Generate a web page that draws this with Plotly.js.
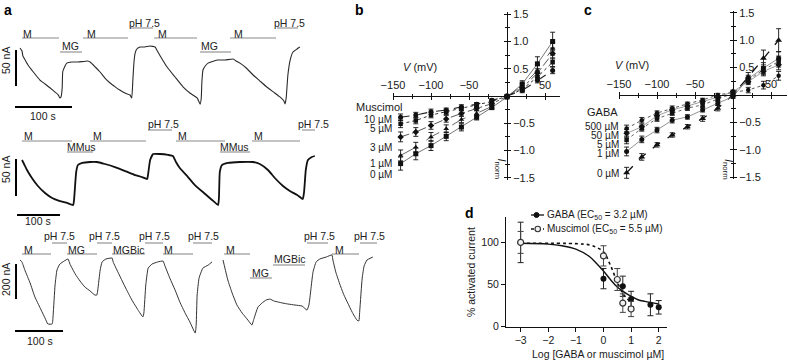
<!DOCTYPE html>
<html><head><meta charset="utf-8">
<script src="https://cdn.plot.ly/plotly-3.0.1.min.js"></script>
<style>html,body{margin:0;padding:0;background:#fff}#chart{width:788px;height:362px}</style>
</head><body><div id="chart"></div>
<script>
// ---------- Panel a: current traces (time in s, current in nA) ----------
const row1Time = [0,3.5,5,9,14,23,35,44,53,61,67,70,72,74,75,79,82,91,102,119,123,132,140,149,158,167,175,184,193,196,198,200,202,205,211,219,228,237,240,246,258,272,286,298,311,316,318,319,321,325,330,346,360,374,379,386,397,409,421,433,447,456,463,465,467,470,474,479,486,491];
const row1Current = [0,-4.2,-11,-16.7,-23.6,-33,-44.5,-50,-55.6,-61,-65,-69.5,-68,-55.6,-33,-25,-21,-19.5,-19.5,-18,-19.5,-26.4,-33,-41.7,-48.6,-54,-58.4,-62.5,-65.3,-69.5,-44.5,-19.5,-7,-1.4,1.4,1.4,2.8,1.4,-2.8,-11,-26.4,-40.3,-54,-62.5,-69.5,-78,-69.5,-48.6,-30.6,-25,-21,-16.7,-16.7,-15.3,-18,-21,-27.8,-37.5,-45.9,-54.2,-62.5,-68,-73.6,-77.8,-69.5,-37.5,-16.7,-5.6,-1.4,1.4];

const row2Time = [0,4.7,11.6,23,37,53.5,70,88,105,119,121,126,130,140,158,174,193,216,240,263,279,291,293,298,305,321,340,351,358,367,386,402,426,442,456,458,460,465,479,507,537,553,572,588,607,623,640,653,656,660,665,674,681];
const row2Current = [0,-5.4,-13.5,-24.3,-35.1,-44.6,-51.3,-55.4,-58,-60.8,-54,-16.2,-6.8,-4,-2.7,-2.7,-5.4,-9.5,-14.9,-20.3,-23,-25.7,-20.3,0,8.1,8.1,6.8,5.4,-2.7,-10.8,-23,-33.8,-45.9,-54,-60.8,-51.3,-16.2,-6.8,-4,-2.7,-2.7,-5.4,-13.5,-24.3,-35.1,-41.9,-47.3,-52.7,-43.2,-13.5,0,4.1,5.4];

const row3aTime = [0,4,10,21,31,42,52,58,67,69,73,77,83,92,100,104,115,125,135,146,156,160,162,167,171,179,192,194,204,219,233,246,256,258,262,267,275,287,298,302,312,323,333,344,354,365,367,369,373,381,392,400];
const row3aCurrent = [0,-11,-57,-131,-211,-274,-331,-365,-365,-314,-143,-57,-23,-6,6,-23,-80,-120,-154,-177,-200,-200,-171,-57,-11,6,11,-11,-69,-154,-228,-286,-325,-303,-143,-46,-23,-11,-6,-34,-103,-171,-240,-303,-354,-417,-371,-200,-103,-46,-29,-11];

const row3bTime = [0,4,10,19,29,40,52,60,65,69,73,81,90,98,106,115,125,135,150,165,175,179,183,187.5,194,202,215,227,229,235,244,252,260,269,279,283,285,290,294,300,312];
const row3bCurrent = [0,-46,-114,-188,-257,-303,-343,-371,-331,-297,-268,-246,-228,-223,-234,-240,-246,-251,-257,-263,-286,-257,-171,-69,-11,6,17,29,0,-69,-143,-200,-246,-297,-343,-348,-286,-103,-34,0,17];

// scale bars (nA, s)
const scaleCurrent = [50, 50, 200];
const scaleTime = [100, 100, 100];

// ---------- Panels b, c: I-V curves ----------
const voltages = [-140,-120,-100,-80,-60,-40,-20,0,20,40,60];
const ivTickVals = [-150,-100,-50,50];
const ivTickText = ['−150','−100','−50','50'];
const inormTickVals = [-1.5,-1,-0.5,0.5,1,1.5];
const inormTickText = ['−1.5','−1.0','−0.5','0.5','1.0','1.5'];
const mus0  = [-1.24,-1.06,-0.91,-0.74,-0.57,-0.39,-0.21,-0.02,0.22,0.59,1.00];
const mus1  = [-1.09,-0.94,-0.75,-0.60,-0.43,-0.32,-0.19,-0.01,0.18,0.47,0.87];
const mus3  = [-0.75,-0.66,-0.54,-0.42,-0.32,-0.23,-0.14,-0.01,0.15,0.42,0.78];
const mus5  = [-0.51,-0.45,-0.35,-0.29,-0.23,-0.17,-0.10,0.00,0.12,0.35,0.62];
const mus10 = [-0.39,-0.35,-0.29,-0.26,-0.20,-0.15,-0.08,0.00,0.10,0.29,0.47];
const mus0Err  = [0.12,0.11,0.09,0.08,0.07,0.05,0.04,0.02,0.06,0.13,0.17];
const mus1Err  = [0.10,0.09,0.08,0.07,0.06,0.05,0.04,0.02,0.05,0.10,0.12];
const mus3Err  = [0.09,0.08,0.07,0.06,0.05,0.04,0.03,0.02,0.05,0.08,0.10];
const mus5Err  = [0.07,0.06,0.05,0.05,0.04,0.04,0.03,0.02,0.04,0.07,0.08];
const mus10Err = [0.06,0.05,0.05,0.04,0.04,0.03,0.03,0.02,0.04,0.05,0.06];
const musLabels = ['10 µM','5 µM','3 µM','1 µM','0 µM'];

const gaba0   = [-1.42,-1.13,-0.91,-0.73,-0.58,-0.43,-0.24,0.00,0.33,0.67,1.00];
const gaba1   = [-1.03,-0.81,-0.64,-0.46,-0.40,-0.27,-0.15,-0.03,0.30,0.49,0.67];
const gaba5   = [-0.82,-0.61,-0.43,-0.33,-0.24,-0.18,-0.08,0.03,0.27,0.46,0.61];
const gaba50  = [-0.70,-0.58,-0.38,-0.27,-0.20,-0.12,-0.04,0.06,0.24,0.43,0.55];
const gaba500 = [-0.61,-0.46,-0.33,-0.24,-0.16,-0.09,0.00,0.05,0.09,0.18,0.35];
const gaba0Err   = [0.10,0.06,0.04,0.04,0.04,0.05,0.05,0.03,0.08,0.15,0.21];
const gaba1Err   = [0.08,0.06,0.05,0.05,0.04,0.04,0.04,0.03,0.06,0.10,0.12];
const gaba5Err   = [0.07,0.05,0.05,0.04,0.04,0.04,0.03,0.03,0.06,0.09,0.10];
const gaba50Err  = [0.07,0.05,0.04,0.04,0.04,0.03,0.03,0.03,0.05,0.08,0.09];
const gaba500Err = [0.06,0.05,0.04,0.04,0.03,0.03,0.03,0.03,0.05,0.07,0.08];
const gabaLabels = ['500 µM','50 µM','5 µM','1 µM','0 µM'];

// ---------- Panel d: dose response ----------
const gabaLogConc = [-3,0,0.7,1,1.7,2];
const gabaPct     = [100,57,48,33,26,23];
const gabaPctErr  = [24,12,12,9,13,8];
const musLogConc  = [-3,0,0.5,0.7,1];
const musPct      = [100,84,56,28,21];
const musPctErr   = [13,12,13,11,9];
const gabaFitX = [-3,-2,-1.5,-1,-0.5,-0.25,0,0.25,0.5,0.75,1,1.25,1.5,2];
const gabaFitY = [99,98,96,92,83,75,66,56,47,41,36,32,30,27];
const musFitX  = [-3,-1,-0.5,-0.25,0,0.25,0.5,0.75,1];
const musFitY  = [99,98.5,97,94,89,73,53,37,29];

// ---------- layout helpers ----------
const W = 788, H = 362;
const PX = v => v / W, PY = v => 1 - v / H;
const FONT = 'Liberation Sans, Arial, Helvetica, sans-serif';
const TXT = '#1a1a1a';

const traces = [];
const lineTrace = (x, y, xa, ya, color, width) => ({x, y, xaxis: xa, yaxis: ya, type: 'scatter', mode: 'lines',
  line: {color, width, shape: 'spline', smoothing: 0.4}, hoverinfo: 'skip', showlegend: false});
traces.push(lineTrace(row1Time, row1Current, 'x', 'y', '#2a2a2a', 1.1));
traces.push(lineTrace(row2Time, row2Current, 'x2', 'y2', '#111', 1.8));
traces.push(lineTrace(row3aTime, row3aCurrent, 'x3', 'y3', '#333', 1.0));
traces.push(lineTrace(row3bTime, row3bCurrent, 'x4', 'y4', '#333', 1.0));

function ivTrace(y, err, xa, ya, symbol, dash, color, width, msize) {
  return {x: voltages, y, xaxis: xa, yaxis: ya, type: 'scatter', mode: 'lines+markers',
    line: {color, width, dash}, marker: {symbol, size: msize, color: '#111'},
    error_y: {type: 'data', array: err, visible: true, color: '#111', thickness: 0.9, width: 2.5},
    cliponaxis: false, hoverinfo: 'skip', showlegend: false};
}
const bStyles = [
  [mus0, mus0Err, 'square', 'solid', '#666', 0.9, 5],
  [mus1, mus1Err, 'triangle-up', 'longdash', '#555', 0.9, 5],
  [mus3, mus3Err, 'diamond', 'dashdot', '#444', 0.9, 5],
  [mus5, mus5Err, 'square', 'dot', '#333', 1.0, 4.5],
  [mus10, mus10Err, 'circle', 'dash', '#222', 1.1, 5]
];
bStyles.forEach(s => traces.push(ivTrace(s[0], s[1], 'x5', 'y5', s[2], s[3], s[4], s[5], s[6])));
const cStyles = [
  [gaba0, gaba0Err, 'triangle-up', 'dash', '#111', 1.3, 6],
  [gaba1, gaba1Err, 'circle', 'solid', '#777', 0.8, 5],
  [gaba5, gaba5Err, 'square', 'dot', '#555', 0.9, 4.5],
  [gaba50, gaba50Err, 'diamond', 'solid', '#888', 0.8, 5],
  [gaba500, gaba500Err, 'circle', 'dot', '#444', 0.9, 4.5]
];
cStyles.forEach(s => traces.push(ivTrace(s[0], s[1], 'x7', 'y7', s[2], s[3], s[4], s[5], s[6])));
// invisible companions so the crossing tick overlays are drawn
traces.push({x: voltages, y: mus0, xaxis: 'x6', yaxis: 'y6', mode: 'lines', opacity: 0, hoverinfo: 'skip', showlegend: false});
traces.push({x: voltages, y: gaba0, xaxis: 'x8', yaxis: 'y8', mode: 'lines', opacity: 0, hoverinfo: 'skip', showlegend: false});

// panel d
traces.push({x: gabaFitX, y: gabaFitY, xaxis: 'x9', yaxis: 'y9', mode: 'lines', line: {color: '#111', width: 1.4, shape: 'spline'}, hoverinfo: 'skip', showlegend: false});
traces.push({x: musFitX, y: musFitY, xaxis: 'x9', yaxis: 'y9', mode: 'lines', line: {color: '#111', width: 1.6, dash: 'dot', shape: 'spline'}, hoverinfo: 'skip', showlegend: false});
traces.push({x: gabaLogConc, y: gabaPct, xaxis: 'x9', yaxis: 'y9', mode: 'markers', marker: {symbol: 'circle', size: 6, color: '#111'},
  error_y: {type: 'data', array: gabaPctErr, visible: true, color: '#222', thickness: 1, width: 3}, cliponaxis: false, hoverinfo: 'skip', showlegend: false});
traces.push({x: musLogConc, y: musPct, xaxis: 'x9', yaxis: 'y9', mode: 'markers', marker: {symbol: 'circle', size: 6, color: '#f2f2f2', line: {color: '#333', width: 1.2}},
  error_y: {type: 'data', array: musPctErr, visible: true, color: '#444', thickness: 1, width: 3}, cliponaxis: false, hoverinfo: 'skip', showlegend: false});

// ---------- axes ----------
const hidden = {visible: false, fixedrange: true};
const layout = {
  width: W, height: H, margin: {l: 0, r: 0, t: 0, b: 0},
  paper_bgcolor: '#fff', plot_bgcolor: 'rgba(0,0,0,0)', showlegend: false,
  font: {family: FONT, size: 10, color: TXT},
  xaxis:  Object.assign({domain: [0, PX(380)], range: [-35.1, 631.6], anchor: 'y'}, hidden),
  yaxis:  Object.assign({domain: [PY(112), PY(40)], range: [-88.9, 11.1], anchor: 'x'}, hidden),
  xaxis2: Object.assign({domain: [0, PX(380)], range: [-51.2, 832.6], anchor: 'y2'}, hidden),
  yaxis2: Object.assign({domain: [PY(218), PY(145)], range: [-78.3, 20.25], anchor: 'x2'}, hidden),
  xaxis3: Object.assign({domain: [0, PX(222)], range: [-41.7, 420.8], anchor: 'y3'}, hidden),
  yaxis3: Object.assign({domain: [PY(335), PY(250)], range: [-428, 57.1], anchor: 'x3'}, hidden),
  xaxis4: Object.assign({domain: [PX(222), PX(380)], range: [-2.08, 327.1], anchor: 'y4'}, hidden),
  yaxis4: Object.assign({domain: [PY(335), PY(250)], range: [-428, 57.1], anchor: 'x4'}, hidden),
};
function ivAxes(xn, yn, oxn, oyn, xdom, xrange, ydom, yrange, xpos, ypos) {
  const common = {showgrid: false, zeroline: false, fixedrange: true, tickcolor: '#111', tickwidth: 1, linecolor: '#111', linewidth: 1,
    tickfont: {family: FONT, size: 11, color: TXT}};
  layout['xaxis' + xn] = Object.assign({}, common, {domain: xdom, range: xrange, anchor: 'free', position: xpos, side: 'top',
    showline: true, ticks: 'outside', ticklen: 3, tickmode: 'array', tickvals: ivTickVals, ticktext: ivTickText,
    minor: {tickmode: 'linear', tick0: 0, dtick: 25, ticks: 'outside', ticklen: 2, tickcolor: '#111'}});
  layout['yaxis' + yn] = Object.assign({}, common, {domain: ydom, range: yrange, anchor: 'free', position: ypos, side: 'right',
    showline: true, ticks: 'outside', ticklen: 3, tickmode: 'array', tickvals: inormTickVals, ticktext: inormTickText,
    minor: {tickmode: 'linear', tick0: 0, dtick: 0.25, ticks: 'outside', ticklen: 2, tickcolor: '#111'}});
  layout['xaxis' + oxn] = Object.assign({}, common, {domain: xdom, range: xrange, anchor: 'free', position: xpos, side: 'bottom',
    overlaying: 'x' + xn, showline: false, showticklabels: false, ticks: 'outside', ticklen: 3, tickmode: 'linear', tick0: 0, dtick: 50,
    minor: {dtick: 25, ticks: 'outside', ticklen: 2, tickcolor: '#111'}});
  layout['yaxis' + oyn] = Object.assign({}, common, {domain: ydom, range: yrange, anchor: 'free', position: ypos, side: 'left',
    overlaying: 'y' + yn, showline: false, showticklabels: false, ticks: 'outside', ticklen: 3, tickmode: 'linear', tick0: 0, dtick: 0.5,
    minor: {dtick: 0.25, ticks: 'outside', ticklen: 2, tickcolor: '#111'}});
}
ivAxes(5, 5, 6, 6, [PX(393), PX(560)], [-150, 69.7], [PY(180), PY(12)], [-1.541, 1.541], PY(96), PX(507));
ivAxes(7, 7, 8, 8, [PX(619), PX(787)], [-150, 71], [PY(179), PY(11)], [-1.533, 1.533], PY(95), PX(733));
layout.xaxis9 = {domain: [PX(506), PX(667)], range: [-3.53, 2.30], anchor: 'y9', showline: true, linecolor: '#111', linewidth: 1,
  showgrid: false, zeroline: false, ticks: 'outside', ticklen: 4, tickcolor: '#111', tickmode: 'linear', tick0: 0, dtick: 1,
  tickfont: {family: FONT, size: 10.5, color: TXT}, fixedrange: true};
layout.yaxis9 = {domain: [PY(326.7), PY(216.7)], range: [0, 130.5], anchor: 'x9', showline: true, linecolor: '#111', linewidth: 1,
  showgrid: false, zeroline: false, ticks: 'outside', ticklen: 4, tickcolor: '#111', tickmode: 'linear', tick0: 0, dtick: 50,
  tickfont: {family: FONT, size: 10.5, color: TXT}, fixedrange: true};

// ---------- annotations & shapes ----------
const ann = [], shapes = [];
const txt = (text, x, y, opt) => ann.push(Object.assign({text, x: PX(x), y: PY(y), xref: 'paper', yref: 'paper', showarrow: false,
  xanchor: 'left', yanchor: 'middle', borderpad: 0, font: {family: FONT, size: 10, color: TXT}}, opt || {}));
const seg = (x0, y0, x1, y1, color, width) => shapes.push({type: 'line', xref: 'paper', yref: 'paper',
  x0: PX(x0), y0: PY(y0), x1: PX(x1), y1: PY(y1), line: {color, width}});

// panel letters
txt('<b>a</b>', 3, 10, {font: {family: FONT, size: 14, color: '#000'}});
txt('<b>b</b>', 354, 10, {font: {family: FONT, size: 14, color: '#000'}});
txt('<b>c</b>', 583, 10, {font: {family: FONT, size: 14, color: '#000'}});
txt('<b>d</b>', 464, 213, {font: {family: FONT, size: 14, color: '#000'}});

// solution application bars: [label, text x, text y, bar x0, bar x1, bar y]
const appBars = [
  ['M', 22, 34, 22, 59, 38], ['MG', 61, 46.5, 60, 82, 52], ['M', 86, 34, 83, 128, 38], ['pH 7.5', 128, 22.5, 130, 153, 28],
  ['M', 157, 34, 154, 197, 38], ['MG', 200, 46.5, 200, 231, 52], ['M', 233, 34, 230, 276, 38], ['pH 7.5', 273, 22.5, 277, 298, 28],
  ['M', 23, 136, 22, 72, 141], ['MMus', 66, 147, 67, 93, 152], ['M', 92, 136, 90, 146, 141], ['pH 7.5', 147, 124, 148, 172, 130],
  ['M', 177, 136, 176, 225, 141], ['MMus', 219, 147, 220, 250, 152], ['M', 253, 136, 252, 300, 141], ['pH 7.5', 297, 124, 302, 315, 130],
  ['pH 7.5', 43, 236, 52, 67, 243], ['pH 7.5', 88, 236, 97, 112, 243], ['pH 7.5', 138, 236, 145, 163, 243], ['pH 7.5', 187, 236, 193, 212, 243],
  ['pH 7.5', 303, 236, 307, 328, 243], ['pH 7.5', 353, 236, 360, 377, 243],
  ['M', 23, 249.5, 22, 51, 254], ['MG', 67, 249.5, 67, 97, 254], ['MGBic', 112, 249.5, 112, 145, 254], ['M', 163, 249.5, 163, 193, 254],
  ['M', 225, 249.5, 224, 250, 254], ['M', 334, 249.5, 332, 359, 254], ['MG', 251, 273, 250, 272, 278], ['MGBic', 273, 259, 273, 305, 265]
];
appBars.forEach(b => { txt(b[0], b[1], b[2], {font: {family: FONT, size: 10.5, color: '#222'}}); seg(b[3], b[5], b[4], b[5], '#8a8a8a', 1.1); });

// scale bars (data coordinates of each row)
const scaleSpec = [
  {xa: 'x', ya: 'y', vx: -7, vy: -2.8, hx: -8.8, hy: -82},
  {xa: 'x2', ya: 'y2', vx: -14, vy: 1.35, hx: -11.6, hy: -74.25},
  {xa: 'x3', ya: 'y3', vx: -8.3, vy: -22.8, hx: -10.4, hy: -405}
];
scaleSpec.forEach((s, i) => {
  shapes.push({type: 'line', xref: s.xa, yref: s.ya, x0: s.vx, x1: s.vx, y0: s.vy, y1: s.vy - scaleCurrent[i], line: {color: '#000', width: 2}});
  shapes.push({type: 'line', xref: s.xa, yref: s.ya, x0: s.hx, x1: s.hx + scaleTime[i], y0: s.hy, y1: s.hy, line: {color: '#000', width: 2}});
});
const f105 = {family: FONT, size: 10.5, color: TXT};
txt(scaleCurrent[0] + ' nA', 6, 61, {textangle: -90, xanchor: 'center', font: f105});
txt(scaleCurrent[1] + ' nA', 6, 170, {textangle: -90, xanchor: 'center', font: f105});
txt(scaleCurrent[2] + ' nA', 6, 280, {textangle: -90, xanchor: 'center', font: f105});
txt(scaleTime[0] + ' s', 43, 116, {xanchor: 'center', font: f105});
txt(scaleTime[1] + ' s', 38, 221, {xanchor: 'center', font: f105});
txt(scaleTime[2] + ' s', 40, 341, {xanchor: 'center', font: f105});

// panel b / c labels
const f11 = {family: FONT, size: 11, color: TXT};
const f10 = {family: FONT, size: 10, color: TXT};
txt('<i>V</i> (mV)', 402, 67, {font: f11});
txt('<i>V</i> (mV)', 614, 65, {font: f11});
txt('<i>I</i><sub>norm</sub>', 500.5, 169, {textangle: 90, xanchor: 'center', font: f11});
txt('<i>I</i><sub>norm</sub>', 728, 169, {textangle: 90, xanchor: 'center', font: f11});
txt('Muscimol', 355, 107, {font: f11});
[119, 128.5, 147, 163, 174].forEach((y, i) => txt(musLabels[i], 393, y, {xanchor: 'right', font: f10}));
txt('GABA', 586, 112, {font: f11});
[126.5, 135.5, 144.5, 153.5, 173].forEach((y, i) => txt(gabaLabels[i], 620, y, {xanchor: 'right', font: f10}));

// panel d titles & legend
txt('Log [GABA or muscimol µM]', 598, 354, {xanchor: 'center', font: f105});
txt('% activated current', 471, 272, {xanchor: 'center', textangle: -90, font: f105});
seg(531, 215, 544, 215, '#111', 1.3);
shapes.push({type: 'circle', xref: 'paper', yref: 'paper', x0: PX(534), x1: PX(539), y0: PY(217.5), y1: PY(212.5), fillcolor: '#111', line: {color: '#111', width: 1}});
shapes.push({type: 'line', xref: 'paper', yref: 'paper', x0: PX(531), x1: PX(544), y0: PY(229), y1: PY(229), line: {color: '#111', width: 1.5, dash: 'dot'}});
shapes.push({type: 'circle', xref: 'paper', yref: 'paper', x0: PX(535), x1: PX(540.5), y0: PY(231.7), y1: PY(226.3), fillcolor: '#f2f2f2', line: {color: '#333', width: 1.1}});
txt('GABA (EC<sub>50</sub> = 3.2 µM)', 546, 215, {font: f10});
txt('Muscimol (EC<sub>50</sub> = 5.5 µM)', 546, 229, {font: f10});

layout.annotations = ann;
layout.shapes = shapes;
Plotly.newPlot('chart', traces, layout, {staticPlot: true, displayModeBar: false});
</script></body></html>
